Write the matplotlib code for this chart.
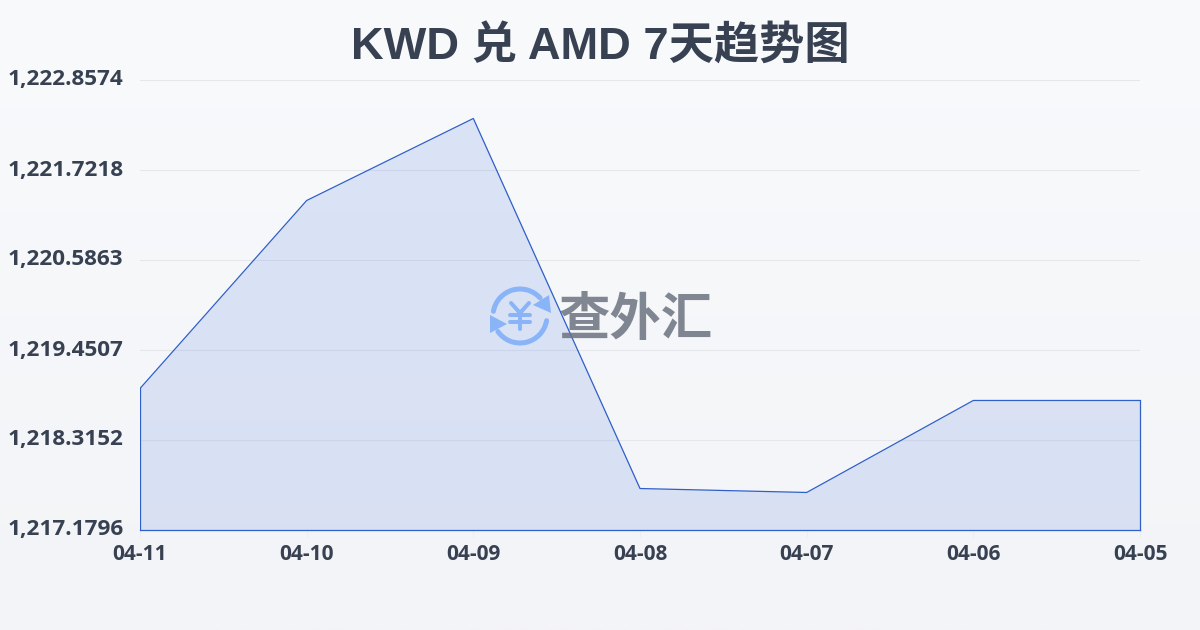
import matplotlib
matplotlib.use("Agg")
import matplotlib.pyplot as plt
import numpy as np
from matplotlib.patches import Arc, Polygon

dates = ["04-11", "04-10", "04-09", "04-08", "04-07", "04-06", "04-05"]
rates = [1218.965, 1221.337, 1222.372, 1217.703, 1217.653, 1218.814, 1218.814]
yticks = [1217.1796, 1218.3152, 1219.4507, 1220.5863, 1221.7218, 1222.8574]

plt.rcParams['font.family'] = ['Open Sans', 'Noto Sans CJK SC']
textColor = "#374151"
lineColor = "#2f5fc8"

fig = plt.figure(figsize=(12, 6.3), dpi=100)

# Background gradient over the whole figure
bg = fig.add_axes([0, 0, 1, 1], zorder=0)
bg.axis("off")
grad = np.linspace(0, 1, 256).reshape(-1, 1)
top = np.array([249, 250, 252]) / 255
bottom = np.array([243, 244, 247]) / 255
bg.imshow(top + grad[:, :, None] * (bottom - top), aspect="auto", extent=[0, 1200, 630, 0])
bg.set_xlim(0, 1200)
bg.set_ylim(630, 0)

# Plot area is 140-1140 x 80-530 in pixels
ax = fig.add_axes([140 / 1200, 1 - 530 / 630, 1000 / 1200, 450 / 630], zorder=1)
ax.patch.set_alpha(0)
x = np.arange(len(dates))
ax.set_xlim(0, len(dates) - 1)
ax.set_ylim(yticks[0], yticks[-1])
ax.set_axisbelow(True)
ax.grid(axis="y", color="#e5e7eb", linewidth=0.8)
ax.fill_between(x, rates, yticks[0], color="#2f62d8", alpha=0.14, linewidth=0)
ax.plot(x, rates, color=lineColor, linewidth=0.9)
ax.plot([0, 0], [yticks[0], rates[0]], color=lineColor, linewidth=0.9)
ax.plot([x[-1], x[-1]], [yticks[0], rates[-1]], color=lineColor, linewidth=0.9, clip_on=False)
ax.plot([0, x[-1]], [yticks[0], yticks[0]], color=lineColor, linewidth=0.9, clip_on=False)

for side in ax.spines.values():
    side.set_visible(False)
ax.set_xticks(x, dates)
ax.set_yticks(yticks, [f"{v:,.4f}" for v in yticks])
ax.tick_params(axis="y", length=0)
ax.tick_params(axis="x", length=5, width=0.8, color="#eceef1", pad=5)
for lab in ax.get_xticklabels():
    lab.set_fontsize(15)
    lab.set_fontweight("bold")
    lab.set_color(textColor)
for lab in ax.get_yticklabels():
    lab.set_fontsize(16.2)
    lab.set_fontweight("bold")
    lab.set_color(textColor)
    lab.set_horizontalalignment("left")
    lab.set_x(-128 / 1000)
    lab.set_verticalalignment("center")

fig.text(0.5, 1 - 47 / 630, "KWD 兑 AMD 7天趋势图", fontsize=32.6, fontweight="bold",
         family=['Liberation Sans', 'Noto Sans CJK SC'], color=textColor, ha="center", va="center")

# Watermark, drawn in pixel coordinates on its own overlay (y is flipped, so arc angles are too)
wm = fig.add_axes([0, 0, 1, 1], zorder=2)
wm.axis("off")
wm.patch.set_alpha(0)
wm.set_xlim(0, 1200)
wm.set_ylim(630, 0)
logoBlue = "#8ab4f8"
wm.add_patch(Arc((520, 316), 54, 54, theta1=190, theta2=318, color=logoBlue, linewidth=3.6, capstyle="round"))
wm.add_patch(Arc((520, 316), 54, 54, theta1=10, theta2=145, color=logoBlue, linewidth=3.6, capstyle="round"))
wm.add_patch(Polygon([[549, 295], [551, 313], [533, 305]], closed=True, color=logoBlue, linewidth=0))
wm.add_patch(Polygon([[490, 315], [490, 333], [507, 324]], closed=True, color=logoBlue, linewidth=0))
for seg in ([[511, 303], [520, 313], [529, 303]], [[510, 315], [530, 315]], [[510, 322], [530, 322]], [[520, 313], [520, 329]]):
    seg = np.array(seg)
    wm.plot(seg[:, 0], seg[:, 1], color=logoBlue, linewidth=2.9, solid_capstyle="round", solid_joinstyle="round")
wm.text(636, 319, "查外汇", fontsize=37, fontweight="bold", family=['Noto Sans CJK SC'], color="#6b7280", alpha=0.85,
        ha="center", va="center")

fig.savefig("out.png", dpi=100)
